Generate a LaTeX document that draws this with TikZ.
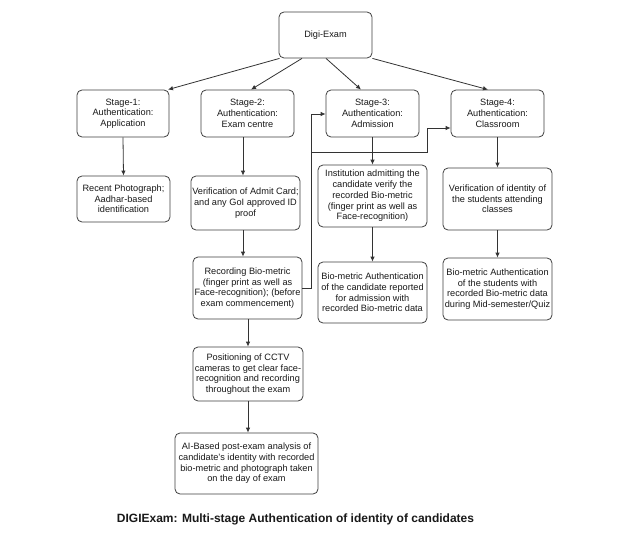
\documentclass[tikz,border=0pt]{standalone}
\usepackage{fontspec}
\setmainfont{Liberation Sans}
\usetikzlibrary{arrows.meta}
\begin{document}
\begin{tikzpicture}[x=1pt,y=-1pt,
  box/.style={draw=black!75, line width=0.8pt, rounded corners=5pt, align=center, inner sep=0pt,
    font=\fontsize{9.2}{10.7}\selectfont, text=black!90},
  conn/.style={draw=black!80, line width=0.8pt, -{Latex[length=5pt,width=4.5pt]}},
  plain/.style={draw=black!80, line width=0.8pt}]
\useasboundingbox[fill=white] (0,0) rectangle (635,535);
\node[box, minimum width=93pt, minimum height=46pt] (top) at (325.5,35) {Digi-Exam};
\node[box, minimum width=92pt, minimum height=47pt] (s1) at (123,113.5) {Stage-1:\\Authentication:\\Application};
\node[box, minimum width=93pt, minimum height=47pt] (s2) at (247.5,113.5) {Stage-2:\\Authentication:\\Exam centre};
\node[box, minimum width=93pt, minimum height=47pt] (s3) at (372.5,113.5) {Stage-3:\\Authentication:\\Admission};
\node[box, minimum width=93pt, minimum height=47pt] (s4) at (497.5,113.5) {Stage-4:\\Authentication:\\Classroom};
\node[box, minimum width=93pt, minimum height=46pt] (recent) at (123.5,199) {Recent Photograph;\\Aadhar-based\\identification};
\node[box, minimum width=109pt, minimum height=54pt] (admit) at (245.5,203) {Verification of Admit Card;\\and any GoI approved ID\\proof};
\node[box, minimum width=109pt, minimum height=62pt] (record) at (247.5,288) {Recording Bio-metric\\(finger print as well as\\Face-recognition); (before\\exam commencement)};
\node[box, minimum width=110pt, minimum height=54pt] (cctv) at (248,374) {Positioning of CCTV\\cameras to get clear face-\\recognition and recording\\throughout the exam};
\node[box, minimum width=143pt, minimum height=61pt] (ai) at (246.5,463.5) {AI-Based post-exam analysis of\\candidate's identity with recorded\\bio-metric and photograph taken\\on the day of exam};
\node[box, minimum width=109pt, minimum height=62pt] (inst) at (372.5,196) {Institution admitting the\\candidate verify the\\recorded Bio-metric\\(finger print as well as\\Face-recognition)};
\node[box, minimum width=109pt, minimum height=61pt] (bio3) at (372.5,292.5) {Bio-metric Authentication\\of the candidate reported\\for admission with\\recorded Bio-metric data};
\node[box, minimum width=109pt, minimum height=62pt] (ver4) at (497.5,199) {Verification of identity of\\the students attending\\classes};
\node[box, minimum width=109pt, minimum height=62pt] (bio4) at (497.5,289) {Bio-metric Authentication\\of the students with\\recorded Bio-metric data\\during Mid-semester/Quiz};
\node[font=\fontsize{12}{14}\bfseries, text=black!90] (cap) at (295.5,519) {DIGIExam: Multi-stage Authentication of identity of candidates};
% top arrows
\draw[conn] ([xshift=-46pt]top.south) -- ([xshift=45pt]s1.north);
\draw[conn] ([xshift=-23.5pt]top.south) -- ([xshift=3.5pt]s2.north);
\draw[conn] ([xshift=0.5pt]top.south) -- ([xshift=-11.5pt]s3.north);
\draw[conn] (top.south east) -- ([xshift=-9.5pt]s4.north);
% vertical arrows
\draw[conn] (s1.south) -- (recent.north);
\draw[conn] ([xshift=-4.5pt]s2.south) -- ([xshift=-4.5pt]s2.south |- admit.north);
\draw[conn] ([xshift=-2.5pt]admit.south) -- ([xshift=-2.5pt]admit.south |- record.north);
\draw[conn] ([xshift=0.5pt]record.south) -- ([xshift=0.5pt]record.south |- cctv.north);
\draw[conn] (cctv.south) -- (cctv.south |- ai.north);
\draw[conn] (s3.south) -- (inst.north);
\draw[conn] (inst.south) -- (bio3.north);
\draw[conn] (s4.south) -- (ver4.north);
\draw[conn] (ver4.south) -- (bio4.north);
% feedback connectors
\coordinate (j1) at (311,288);
\coordinate (j2) at (311,152);
\coordinate (j3) at (427,152);
\draw[conn] (record.east |- j1) -- (j1) -- (311,114) -- (s3.west |- 0,114);
\draw[conn] (j2) -- (j3) -- (427,128) -- (s4.west |- 0,128);
\end{tikzpicture}
\end{document}
